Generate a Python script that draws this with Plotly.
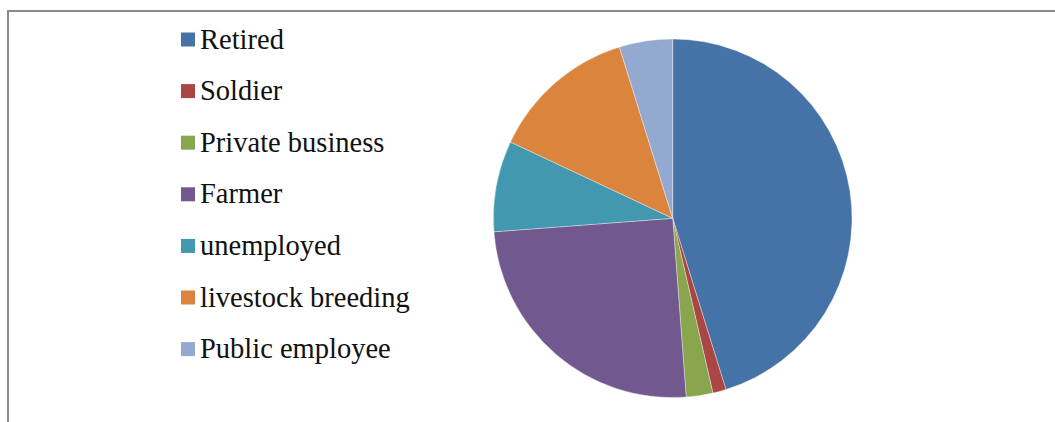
import plotly.graph_objects as go

# Occupation breakdown (share of respondents, %)
occupations = ["Retired", "Soldier", "Private business", "Farmer",
               "unemployed", "livestock breeding", "Public employee"]
shares = [45.2, 1.2, 2.4, 25.0, 8.2, 13.2, 4.8]
palette = ["#4572A7", "#AA4643", "#89A54E", "#71588F",
           "#4198AF", "#DB843D", "#93A9CF"]

W, H = 1055, 422
cx, cy, r = 672.7, 218.3, 179.3

fig = go.Figure(go.Pie(
    labels=occupations,
    values=shares,
    sort=False,
    direction="clockwise",
    rotation=0,
    textinfo="none",
    hoverinfo="label+percent",
    marker=dict(colors=palette, line=dict(color="rgba(255,255,255,0.6)", width=0.6)),
    domain=dict(x=[(cx - r) / W, (cx + r) / W],
                y=[1 - (cy + r) / H, 1 - (cy - r) / H]),
    showlegend=False,
))

# Hand-placed legend: colored square + label per slice
shapes = []
annotations = []
y0, step = 39.5, 51.6
for i, (name, col) in enumerate(zip(occupations, palette)):
    yc = y0 + i * step
    shapes.append(dict(type="rect", xref="paper", yref="paper",
                       x0=181 / W, x1=195 / W,
                       y0=1 - (yc + 7) / H, y1=1 - (yc - 7) / H,
                       fillcolor=col, line=dict(width=0)))
    annotations.append(dict(xref="paper", yref="paper",
                            x=198 / W, y=1 - (yc - 0.5) / H,
                            xanchor="left", yanchor="middle",
                            text=name, showarrow=False,
                            font=dict(family="Liberation Serif", size=28.5, color="#111111")))

# Chart frame (top and left edges)
frame = dict(color="#8a8a8a", width=2)
shapes.append(dict(type="line", xref="paper", yref="paper",
                   x0=8 / W, x1=1.0, y0=1 - 11 / H, y1=1 - 11 / H, line=frame))
shapes.append(dict(type="line", xref="paper", yref="paper",
                   x0=8 / W, x1=8 / W, y0=1 - 10 / H, y1=0, line=frame))

fig.update_layout(
    width=W, height=H,
    margin=dict(l=0, r=0, t=0, b=0),
    paper_bgcolor="white",
    plot_bgcolor="white",
    shapes=shapes,
    annotations=annotations,
)

fig.write_html("out.html")
